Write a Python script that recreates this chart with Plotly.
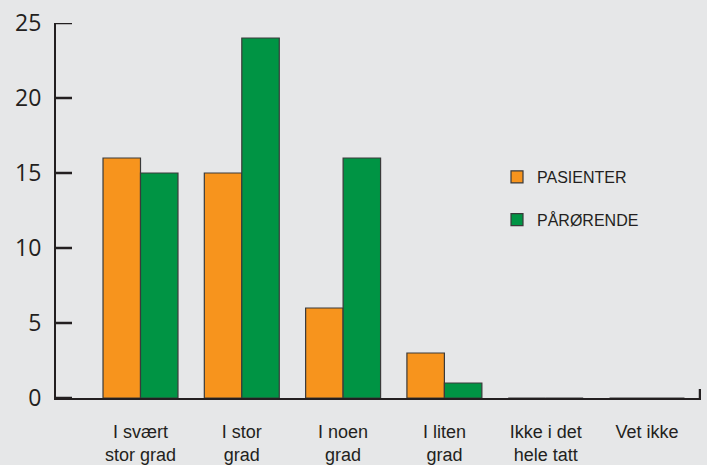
import plotly.graph_objects as go

categories = ["I svært<br>stor grad", "I stor<br>grad", "I noen<br>grad",
              "I liten<br>grad", "Ikke i det<br>hele tatt", "Vet ikke"]
pasienter = [16, 15, 6, 3, 0, 0]
parorende = [15, 24, 16, 1, 0, 0]
y_ticks = [0, 5, 10, 15, 20, 25]

W, H = 707, 465
BG = "#e6e7e8"
INK = "#231f20"
OUTLINE = "#3a3a3a"

x_left, x_right = 56, 701
y_bottom, y_top = 398, 23
center0, step = 140.5, 101.3
tick_len = 16

fig = go.Figure()
fig.add_trace(go.Bar(
    x=categories, y=pasienter, name="PASIENTER", legendgroup="a",
    marker=dict(color="#f7941d", line=dict(color=OUTLINE, width=1.2)),
))
fig.add_trace(go.Bar(
    x=categories, y=parorende, name="PÅRØRENDE", legendgroup="b",
    marker=dict(color="#009444", line=dict(color=OUTLINE, width=1.2)),
))

# axis tick marks pointing into the plot, plus the closing tick at the right end
tick_x, tick_y = [], []
for v in y_ticks:
    tick_x += [x_left, x_left + tick_len, None]
    tick_y += [v, v, None]
tick_x += [x_right - 1, x_right - 1]
tick_y += [0, 0.6]
fig.add_trace(go.Scatter(
    x=tick_x, y=tick_y, xaxis="x2", yaxis="y", mode="lines",
    line=dict(color=INK, width=2.5), cliponaxis=False,
    showlegend=False, hoverinfo="skip",
))

fig.update_layout(
    width=W, height=H,
    margin=dict(l=0, r=0, t=0, b=0, autoexpand=False),
    paper_bgcolor=BG, plot_bgcolor=BG,
    barmode="group", bargap=0.26, bargroupgap=0,
    showlegend=True,
    legend=dict(
        x=497 / W, y=1 - 160 / H, xanchor="left", yanchor="top",
        bgcolor="rgba(0,0,0,0)", tracegroupgap=19,
        font=dict(family="Liberation Sans", size=16, color=INK),
    ),
    xaxis=dict(
        domain=[x_left / W, x_right / W],
        range=[(x_left - center0) / step, (x_right - center0) / step],
        showline=True, linecolor=INK, linewidth=2,
        ticks="", showgrid=False, zeroline=False, automargin=False,
        tickfont=dict(family="Liberation Sans", size=18, color=INK),
        ticklabelstandoff=16,
    ),
    xaxis2=dict(
        overlaying="x", range=[x_left, x_right], visible=False,
    ),
    yaxis=dict(
        domain=[(H - y_bottom) / H, (H - y_top) / H],
        range=[0, 25],
        showline=True, linecolor=INK, linewidth=2,
        ticks="", tickmode="array", tickvals=y_ticks,
        showgrid=False, zeroline=False, automargin=False,
        tickfont=dict(family="Open Sans", size=23, color=INK),
        ticklabelstandoff=8,
    ),
)

fig.write_html("out.html")
